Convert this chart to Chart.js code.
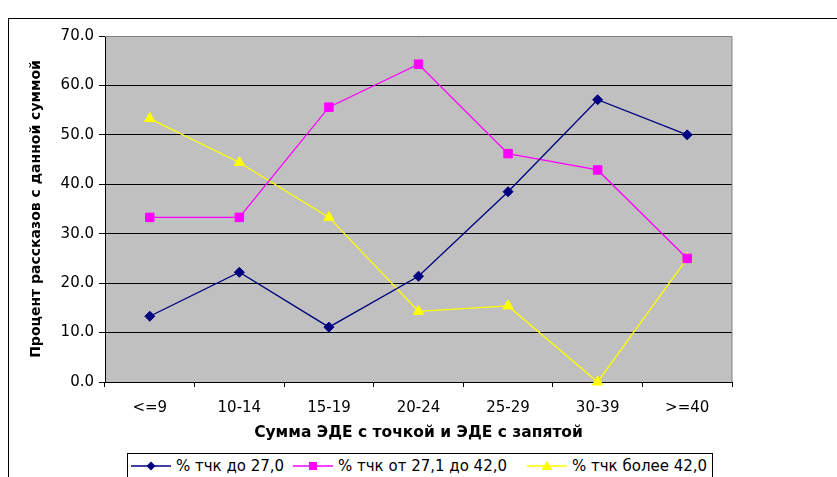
<!DOCTYPE html>
<html><head><meta charset="utf-8">
<script src="https://cdn.jsdelivr.net/npm/chart.js@4/dist/chart.umd.min.js"></script>
<style>
html,body{margin:0;padding:0;background:#fff;width:837px;height:477px;overflow:hidden;}
#wrap{position:relative;width:837px;height:477px;}
#frame{position:absolute;left:8px;top:18px;width:860px;height:500px;border:1px solid #000;box-sizing:border-box;pointer-events:none;}
canvas{position:absolute;left:0;top:0;}
#legend{position:absolute;left:127px;top:453px;width:586px;height:40px;border:1px solid #000;box-sizing:border-box;background:#fff;font:15px "DejaVu Sans",sans-serif;color:#000;display:flex;align-items:flex-start;padding:3px 0 0 3px;white-space:nowrap;}
#legend .item{display:flex;align-items:center;}
#legend .item:nth-child(1){width:162px;}
#legend .item:nth-child(2){width:234px;}
#legend svg{margin-right:5px;flex:none;}
</style></head>
<body>
<div id="wrap">
<div id="frame"></div>
<canvas id="c" width="837" height="477"></canvas>
<div id="legend"></div>
</div>
<script>
const categories = ['<=9','10-14','15-19','20-24','25-29','30-39','>=40'];
const seriesLow  = [13.3, 22.2, 11.1, 21.4, 38.5, 57.1, 50.0];
const seriesMid  = [33.3, 33.3, 55.6, 64.3, 46.2, 42.9, 25.0];
const seriesHigh = [53.3, 44.4, 33.3, 14.3, 15.4, 0.0, 25.0];
const seriesNames = ['% тчк до 27,0', '% тчк от 27,1 до 42,0', '% тчк более 42,0'];
const yMin = 0, yMax = 70, yStep = 10;
const yTitle = 'Процент рассказов с данной суммой';
const xTitle = 'Сумма ЭДЕ с точкой и ЭДЕ с запятой';

const FONT = '"DejaVu Sans", sans-serif';
const colors = ['#000080', '#FF00FF', '#FFFF00'];
const styles = ['rectRot', 'rect', 'triangle'];
const radii = [5, 6, 6];
const allSeries = [seriesLow, seriesMid, seriesHigh];

const datasets = allSeries.map((d, i) => ({
  label: seriesNames[i],
  data: d,
  borderColor: colors[i],
  backgroundColor: colors[i],
  pointBackgroundColor: colors[i],
  pointBorderColor: colors[i],
  pointStyle: styles[i],
  pointRadius: radii[i],
  pointBorderWidth: 1,
  borderWidth: 1.3,
  tension: 0,
  clip: false
}));

const plotBg = {
  id: 'plotBg',
  beforeDraw(chart) {
    const {ctx, chartArea: a} = chart;
    ctx.save();
    ctx.fillStyle = '#C0C0C0';
    ctx.fillRect(a.left, a.top, a.right - a.left, a.bottom - a.top);
    ctx.restore();
  },
  beforeDatasetsDraw(chart) {
    const {ctx, chartArea: a} = chart;
    ctx.save();
    ctx.strokeStyle = '#808080';
    ctx.lineWidth = 1;
    ctx.beginPath();
    ctx.moveTo(a.left, Math.round(a.top) + 0.5);
    ctx.lineTo(a.right, Math.round(a.top) + 0.5);
    ctx.lineTo(a.right, a.bottom);
    ctx.stroke();
    ctx.restore();
  }
};

new Chart(document.getElementById('c'), {
  type: 'line',
  data: { labels: categories, datasets },
  plugins: [plotBg],
  options: {
    responsive: false,
    animation: false,
    layout: { padding: { left: 0, top: 36, right: 105, bottom: 0 } },
    plugins: { legend: { display: false }, tooltip: { enabled: false } },
    scales: {
      x: {
        type: 'category',
        offset: true,
        grid: { offset: true, drawOnChartArea: false, tickLength: 5, color: '#000', lineWidth: 1 },
        border: { color: '#000', width: 1 },
        ticks: { color: '#000', font: { family: FONT, size: 15 }, padding: 12, maxRotation: 0, autoSkip: false },
        title: { display: true, text: xTitle, color: '#000', font: { family: FONT, size: 15.5, weight: 'bold' }, padding: { top: 0, bottom: 35 } },
        afterFit(s) { s.height = 95; }
      },
      y: {
        min: yMin, max: yMax,
        grid: { color: '#000', lineWidth: 1, tickLength: 6 },
        border: { color: '#000', width: 1 },
        ticks: { stepSize: yStep, color: '#000', font: { family: FONT, size: 15 }, padding: 5, callback: v => Number(v).toFixed(1) },
        title: { display: true, text: yTitle, color: '#000', font: { family: FONT, size: 14, weight: 'bold' }, padding: { top: 28, bottom: 0 } },
        afterFit(s) { s.width = 105; }
      }
    }
  }
});

// HTML legend built from the series
const leg = document.getElementById('legend');
allSeries.forEach((d, i) => {
  const item = document.createElement('div');
  item.className = 'item';
  const c = colors[i];
  let marker;
  if (i === 0) marker = `<polygon points="20,1.5 24.5,6 20,10.5 15.5,6" fill="${c}"/>`;
  else if (i === 1) marker = `<rect x="16" y="2" width="8" height="8" fill="${c}"/>`;
  else marker = `<polygon points="20,0.5 25.5,10 14.5,10" fill="${c}"/>`;
  item.innerHTML = `<svg width="40" height="12"><line x1="0" y1="6" x2="40" y2="6" stroke="${c}" stroke-width="1.5"/>${marker}</svg><span>${seriesNames[i]}</span>`;
  leg.appendChild(item);
});
</script>
</body></html>
